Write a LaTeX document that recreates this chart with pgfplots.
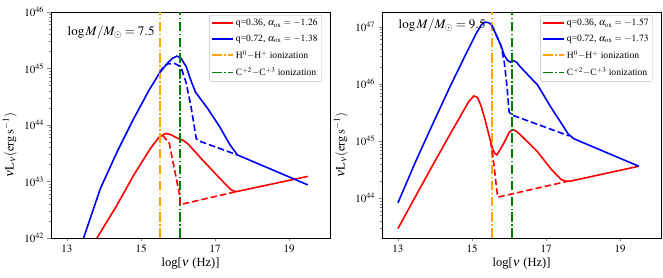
\documentclass[border=0pt]{standalone}
\usepackage{mathptmx}
\usepackage[no-math]{fontspec}
\setmainfont{Liberation Serif}
\usepackage{pgfplots}
\pgfplotsset{compat=1.18}
\definecolor{mplred}{rgb}{1,0,0}
\definecolor{mplblue}{rgb}{0,0,1}
\definecolor{mplorange}{rgb}{1,0.647,0}
\definecolor{mplgreen}{rgb}{0,0.5,0}
\pgfplotsset{legend image code/.code={\draw[#1] (0pt,0pt) -- (21pt,0pt);}}
\pgfplotsset{
  mypanel/.style={
    scale only axis, width=279pt, height=226pt,
    xmin=12.57, xmax=20.1,
    xtick={13,15,17,19},
    tick align=outside, xtick pos=left, ytick pos=left,
    major tick length=3.5pt, minor tick length=2pt,
    axis line style={line width=0.6pt},
    ticklabel style={font=\fontsize{11}{11}\selectfont},
    xlabel={log[$\nu$ (Hz)]},
    ylabel={$\nu\mathrm{L}_\nu(\mathrm{erg\,s^{-1}})$},
    x label style={at={(axis description cs:0.5,-0.115)}, anchor=center, font=\fontsize{12.5}{12.5}\selectfont},
    y label style={at={(axis description cs:-0.148,0.41)}, anchor=center, font=\fontsize{12.5}{12.5}\selectfont},
    legend cell align=left,
    legend style={at={(0.971,0.987)}, anchor=north east, draw=lightgray, rounded corners=2pt,
      fill=white, font=\fontsize{9.6}{11}\selectfont,
      inner xsep=2pt, inner ysep=2pt, row sep=3.6pt},
  },
}
\begin{document}
\begin{tikzpicture}
\path[use as bounding box] (-51pt,-40pt) rectangle (612pt,238pt);
% ---------------- left panel ----------------
\begin{axis}[ymode=log, mypanel, at={(0pt,0pt)}, anchor=south west, ymin=1e42, ymax=1e46]
\addplot[color=mplred, line width=1.6pt] coordinates {
(13.5,3.981e41) (13.81,1e42) (14.35,3.802e42) (14.8,1.288e43) (15.25,3.802e43)
(15.48,6.026e43) (15.66,7.079e43) (15.8,6.761e43) (15.97,5.888e43) (16.13,5.370e43)
(16.26,4.677e43) (16.66,2.399e43) (17.12,1.148e43) (17.43,7.079e42) (17.57,6.607e42)
(19.5,1.230e43)};
\addlegendentry{q=0.36, $\alpha_{\rm ox}=-1.26$}
\addplot[color=mplblue, line width=1.6pt] coordinates {
(13.0,1.259e41) (13.45,1e42) (13.9,7.413e42) (14.35,3.311e43) (14.8,1.288e44)
(15.22,4.169e44) (15.5,8.318e44) (15.72,1.259e45) (15.85,1.514e45) (15.97,1.660e45)
(16.08,1.514e45) (16.22,1.072e45) (16.35,6.026e44) (16.47,3.802e44) (16.8,1.950e44)
(17.12,9.333e43) (17.4,4.467e43) (17.6,2.951e43) (19.5,8.710e42)};
\addlegendentry{q=0.72, $\alpha_{\rm ox}=-1.38$}
\addplot[color=mplorange, line width=1.6pt, dash pattern=on 9.6pt off 2.4pt on 1.5pt off 2.4pt] coordinates {(15.51,1e42) (15.51,1e46)};
\addlegendentry{H$^0-$H$^+$ ionization}
\addplot[color=mplgreen, line width=1.6pt, dash pattern=on 9.6pt off 2.4pt on 1.5pt off 2.4pt] coordinates {(16.05,1e42) (16.05,1e46)};
\addlegendentry{C$^{+2}-$C$^{+3}$ ionization}
\addplot[color=mplred, line width=1.6pt, dash pattern=on 6.5pt off 3pt, forget plot] coordinates {
(15.58,6.607e43) (15.76,4.786e43) (15.87,2.089e43) (15.96,1.072e43) (16.05,5.370e42)
(16.05,3.890e42) (17.57,6.607e42)};
\addplot[color=mplblue, line width=1.6pt, dash pattern=on 6.5pt off 3pt, forget plot] coordinates {
(15.5,8.318e44) (15.6,1.072e45) (15.72,1.202e45) (15.9,1.230e45) (16.02,1.122e45)
(16.1,9.550e44) (16.22,5.495e44) (16.35,2.089e44) (16.49,5.754e43) (16.55,5.248e43)
(17.6,2.951e43)};
\node[anchor=west, font=\fontsize{13}{13}\selectfont] at (rel axis cs:0.047,0.911) {$\log M/M_\odot=7.5$};
\end{axis}
% ---------------- right panel ----------------
\begin{axis}[ymode=log, mypanel, at={(331pt,0pt)}, anchor=south west, ymin=2.02e43, ymax=1.81e47]
\addplot[color=mplred, line width=1.6pt] coordinates {
(13.0,2.951e43) (13.49,1.122e44) (13.94,3.802e44) (14.39,1.259e45) (14.7,2.818e45)
(14.9,4.786e45) (15.05,6.166e45) (15.15,5.754e45) (15.24,4.169e45) (15.35,2.399e45)
(15.45,1.318e45) (15.55,7.413e44) (15.62,6.026e44) (15.67,5.754e44) (15.75,6.918e44)
(15.87,9.550e44) (16.0,1.413e45) (16.1,1.585e45) (16.2,1.479e45) (16.32,1.259e45)
(16.77,6.457e44) (17.12,3.311e44) (17.4,2.138e44) (17.53,1.995e44) (17.66,1.995e44)
(19.5,3.631e44)};
\addlegendentry{q=0.36, $\alpha_{\rm ox}=-1.57$}
\addplot[color=mplblue, line width=1.6pt] coordinates {
(13.0,8.318e43) (13.49,4.571e44) (13.94,1.995e45) (14.39,8.511e45) (14.84,3.388e46)
(15.11,7.586e46) (15.25,1.072e47) (15.34,1.202e47) (15.45,1.175e47) (15.53,1.072e47)
(15.65,7.244e46) (15.78,4.677e46) (15.87,3.162e46) (15.96,2.570e46) (16.03,2.399e46)
(16.1,2.570e46) (16.2,2.399e46) (16.3,1.995e46) (16.77,9.550e45) (17.12,3.981e45)
(17.45,1.862e45) (17.6,1.318e45) (17.75,1.096e45) (19.5,3.631e44)};
\addlegendentry{q=0.72, $\alpha_{\rm ox}=-1.73$}
\addplot[color=mplorange, line width=1.6pt, dash pattern=on 9.6pt off 2.4pt on 1.5pt off 2.4pt] coordinates {(15.536,2.02e43) (15.536,1.81e47)};
\addlegendentry{H$^0-$H$^+$ ionization}
\addplot[color=mplgreen, line width=1.6pt, dash pattern=on 9.6pt off 2.4pt on 1.5pt off 2.4pt] coordinates {(16.076,2.02e43) (16.076,1.81e47)};
\addlegendentry{C$^{+2}-$C$^{+3}$ ionization}
\addplot[color=mplred, line width=1.6pt, dash pattern=on 6.5pt off 3pt, forget plot] coordinates {
(15.5,1e45) (15.56,5.623e44) (15.62,2.630e44) (15.67,1.318e44) (15.7,1.047e44)
(17.6,1.995e44)};
\addplot[color=mplblue, line width=1.6pt, dash pattern=on 6.5pt off 3pt, forget plot] coordinates {
(15.53,1.072e47) (15.65,7.244e46) (15.78,4.677e46) (15.87,2.399e46) (15.94,9.550e45)
(16.0,3.236e45) (16.06,2.884e45) (17.62,1.230e45)};
\node[anchor=west, font=\fontsize{13}{13}\selectfont] at (rel axis cs:0.047,0.942) {$\log M/M_\odot=9.5$};
\end{axis}
\end{tikzpicture}
\end{document}
